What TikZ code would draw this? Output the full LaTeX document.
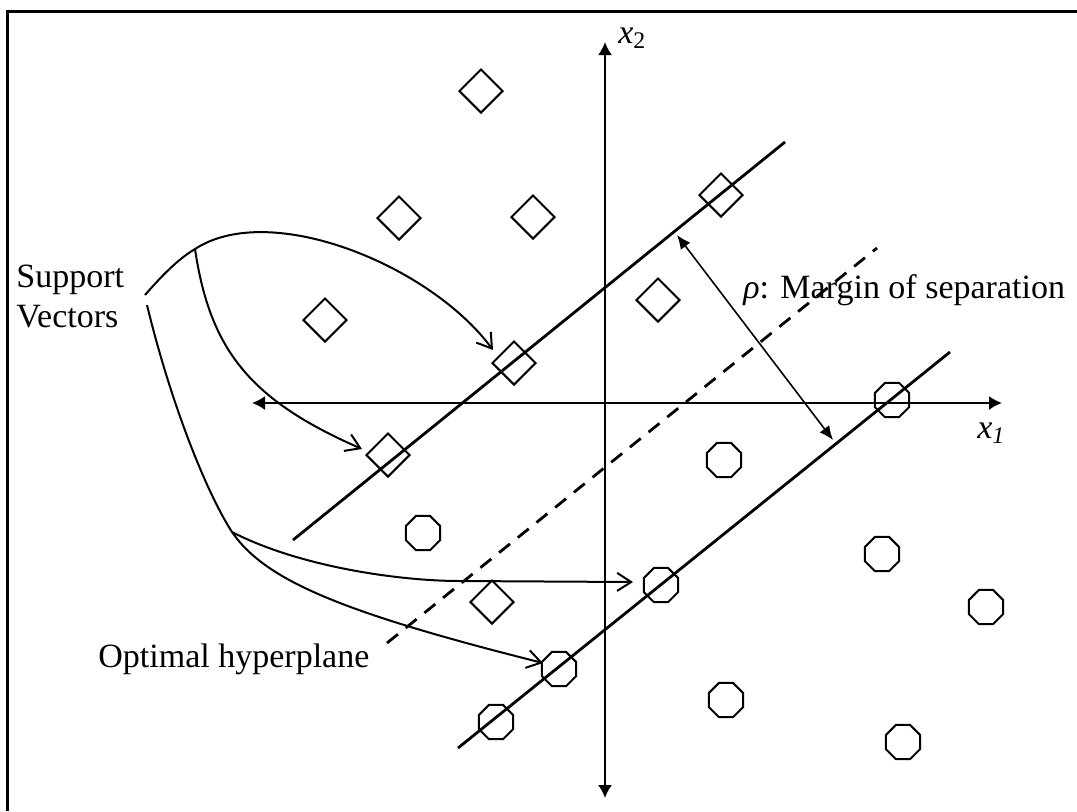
\documentclass[tikz,border=0pt]{standalone}
\usepackage{fontspec}
\setmainfont{Liberation Serif}
\usetikzlibrary{arrows.meta, shapes.geometric}

\begin{document}
\begin{tikzpicture}[
    x=0.5pt, y=-0.5pt,
    every node/.style={font=\fontsize{17}{20}\selectfont, inner sep=0pt},
    frame/.style={line width=1.5pt},
    axis/.style={{Latex[length=6.5pt,width=7pt]}-{Latex[length=6.5pt,width=7pt]}, line width=0.9pt},
    plane/.style={line width=1.4pt},
    optplane/.style={plane, dash pattern=on 7pt off 5pt},
    margin/.style={{Latex[length=7pt,width=6pt]}-{Latex[length=7pt,width=6pt]}, line width=0.8pt},
    lead/.style={-{Straight Barb[length=7pt,width=9pt]}, line width=1pt},
    dmd/.style={diamond, draw, line width=1pt, minimum width=22pt, minimum height=22pt},
    oct/.style={regular polygon, regular polygon sides=8, draw, line width=1pt, minimum size=18.5pt}
]
\useasboundingbox (0,0) rectangle (1077,811);

% frame
\draw[frame] (7,811) -- (7,11) -- (1077,11);

% axes
\coordinate (xl) at (252,403);
\coordinate (xr) at (1002,403);
\coordinate (yt) at (605,42);
\coordinate (yb) at (605,798);
\draw[axis] (xl) -- (xr);
\draw[axis] (yb) -- (yt);
\node[anchor=base west] (lx1) at (977,438) {\itshape x\textsubscript{1}};
\node[anchor=base west] (lx2) at (618,43) {\itshape x\textsubscript{\upshape 2}};

% hyperplanes
\coordinate (p1a) at (293,540);
\coordinate (p1b) at (785,142);
\coordinate (p0a) at (387,643);
\coordinate (p0b) at (877,248);
\coordinate (p2a) at (458,748);
\coordinate (p2b) at (950,352);
\draw[plane] (p1a) -- (p1b);
\draw[optplane] (p0a) -- (p0b);
\draw[plane] (p2a) -- (p2b);

% class 1: diamonds
\foreach \n/\x/\y in {d1/481/91, d2/399/218, d3/533/217, d4/325/320, d5/658/300,
                      d6/492/602, sv1/514/363, sv2/388/455, sv3/721/195} {
    \node[dmd] (\n) at (\x,\y) {};
}

% class 2: octagons
\foreach \n/\x/\y in {o1/724/460, o2/423/533, o3/882/554, o4/986/607, o5/726/700,
                      o6/903/742, sv4/892/400, sv5/661/585, sv6/559/669, sv7/496/722} {
    \node[oct] (\n) at (\x,\y) {};
}

% margin
\coordinate (mtop) at (677,235);
\coordinate (mbot) at (833,440);
\draw[margin] (mtop) -- (mbot);
\node[anchor=base west] (lrho) at (743,298) {{\itshape ρ}: Margin of separation};

% labels
\node[anchor=north west, align=left] (lsv) at (16,265) {Support\\Vectors};
\node[anchor=base west] (lopt) at (98,667) {Optimal hyperplane};

% leader lines
\coordinate (svA) at (145,295);
\coordinate (svB) at (147,305);
\coordinate (brA) at (195,249);
\coordinate (brB) at (232,532);
\coordinate (tipA) at (493,350);
\coordinate (tipB) at (362,449);
\coordinate (tipC) at (633,582);
\coordinate (tipD) at (543,663);
\draw[lead] (svA) .. controls (165,272) and (180,258) .. (brA)
            .. controls (270,200) and (430,265) .. (tipA);
\draw[lead] (brA) .. controls (210,350) and (250,400) .. (tipB);
\draw[lead] (svB) .. controls (170,400) and (205,490) .. (brB)
            .. controls (265,580) and (340,612) .. (tipD);
\draw[lead] (brB) .. controls (300,567) and (400,581) .. (460,581) -- (tipC);

\end{tikzpicture}
\end{document}
